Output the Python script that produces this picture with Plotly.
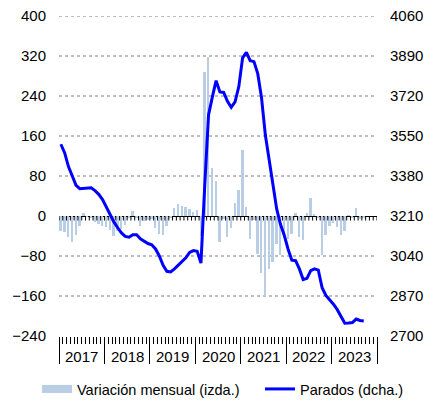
import plotly.graph_objects as go

years = ["2017", "2018", "2019", "2020", "2021", "2022", "2023"]

# Monthly variation (left axis), Jan 2017 - Sep 2023
variacion = [
    -29, -31, -41, -51, -38, -19, 7, -2, -4, -11, -15, -20,      # 2017
    -21, -28, -40, -29, -25, -18, -4, 10, -3, -19, -10, -8,      # 2018
    -5, -23, -35, -38, -19, -3, 17, 25, 21, 19, 15, 8,           # 2019
    13, -40, 288, 318, 96, 70, -52, -5, -42, -23, 27, 53,        # 2020
    133, 18, -45, -8, -75, -114, -159, -105, -92, -55, -78, -35,  # 2021
    -45, -35, 7, -42, -48, 7, 37, 5, -3, -78, -38, -20,          # 2022
    -14, -22, -37, -29, 2, -3, 17, -5, -3,                       # 2023
]

# Unemployed level (right axis), Jan 2017 - Sep 2023
parados = [
    3515, 3478, 3420, 3378, 3340, 3326, 3328, 3330, 3330, 3318, 3302, 3280,
    3248, 3220, 3185, 3160, 3138, 3123, 3120, 3130, 3130, 3113, 3102, 3093,
    3088, 3070, 3040, 3000, 2975, 2972, 2985, 3000, 3015, 3032, 3055, 3063,
    3060, 3010, 3340, 3640, 3715, 3785, 3737, 3735, 3697, 3672, 3695, 3760,
    3882, 3905, 3870, 3866, 3815, 3712, 3555, 3450, 3340, 3240, 3175, 3128,
    3070, 3022, 3020, 2985, 2940, 2945, 2978, 2985, 2980, 2905, 2872, 2855,
    2835, 2812, 2782, 2754, 2755, 2757, 2772, 2766, 2764,
]

left_ticks = [-240, -160, -80, 0, 80, 160, 240, 320, 400]
right_ticks = [2700, 2870, 3040, 3210, 3380, 3550, 3720, 3890, 4060]

months = list(range(len(parados)))
n_months = 12 * len(years)
x_range = [-0.5, n_months - 0.5]
year_bounds = [12 * k - 0.5 for k in range(len(years) + 1)]
year_centers = [12 * k + 5.5 for k in range(len(years))]
month_bounds = [m - 0.5 for m in range(n_months + 1)]
grid_vals = [v for v in left_ticks if v not in (left_ticks[0], 0)]

FONT = "Liberation Sans, Arial, sans-serif"
BAR_COLOR = "#b9cde5"
LINE_COLOR = "#0000ff"

fig = go.Figure()
fig.add_trace(go.Bar(x=months, y=variacion, marker_color=BAR_COLOR, marker_line_width=0,
                     width=0.5, showlegend=False, name="Variación mensual (izda.)"))
# small downward ticks on the zero line (one per month boundary)
fig.add_trace(go.Scatter(x=month_bounds, y=[0] * len(month_bounds), mode="markers",
                         marker=dict(size=1, opacity=0), showlegend=False, hoverinfo="skip",
                         error_y=dict(type="data", symmetric=False,
                                      array=[0] * len(month_bounds),
                                      arrayminus=[9] * len(month_bounds),
                                      width=0, thickness=1, color="#000000")))
fig.add_trace(go.Scatter(x=[None], y=[None], mode="lines",
                         line=dict(color=BAR_COLOR, width=8),
                         name="Variación mensual (izda.)", legend="legend"))
fig.add_trace(go.Scatter(x=months, y=parados, mode="lines", yaxis="y2",
                         line=dict(color=LINE_COLOR, width=3),
                         name="Parados (dcha.)", legend="legend2"))

legend_common = dict(orientation="h", yanchor="middle", xanchor="left",
                     xref="container", yref="container",
                     font=dict(size=14.5, family=FONT, color="#000000"),
                     bgcolor="rgba(0,0,0,0)", itemwidth=30)

# dotted horizontal gridlines at the left-axis tick values
grid_shapes = [dict(type="line", xref="paper", x0=0, x1=1, yref="y", y0=v, y1=v,
                    line=dict(color="#7f7f7f", width=1, dash="dot"), layer="below")
               for v in grid_vals]

fig.update_layout(
    width=424, height=401,
    margin=dict(l=59, r=47, t=16, b=65, autoexpand=False),
    paper_bgcolor="white", plot_bgcolor="white",
    font=dict(family=FONT, size=15, color="#000000"),
    bargap=0,
    xaxis=dict(range=x_range, tickmode="array", tickvals=year_bounds,
               ticks="outside", ticklen=27, tickcolor="#000000", tickwidth=1,
               showticklabels=False, showgrid=False, zeroline=False, showline=False,
               minor=dict(tick0=-0.5, dtick=1, ticks="outside", ticklen=7,
                          tickcolor="#000000", tickwidth=1, showgrid=False)),
    yaxis=dict(range=[left_ticks[0], left_ticks[-1]], tickmode="array", tickvals=left_ticks,
               showgrid=False,
               zeroline=True, zerolinecolor="#000000", zerolinewidth=1,
               showline=False, ticks="", ticklabelstandoff=12),
    yaxis2=dict(range=[right_ticks[0], right_ticks[-1]], overlaying="y", side="right",
                tickmode="array", tickvals=right_ticks, showgrid=False, zeroline=False,
                showline=False, ticks="", ticklabelstandoff=12),
    legend=dict(legend_common, x=37 / 424, y=1 - 389 / 401),
    legend2=dict(legend_common, x=260 / 424, y=1 - 389 / 401),
    showlegend=True,
    shapes=grid_shapes,
    annotations=[dict(x=xc, y=-0.064, xref="x", yref="paper", text=yr, showarrow=False,
                      xanchor="center", yanchor="middle", font=dict(size=15))
                 for xc, yr in zip(year_centers, years)],
)

fig.write_html("out.html", config={"displayModeBar": False},
               post_script="document.body.style.margin='0';")
